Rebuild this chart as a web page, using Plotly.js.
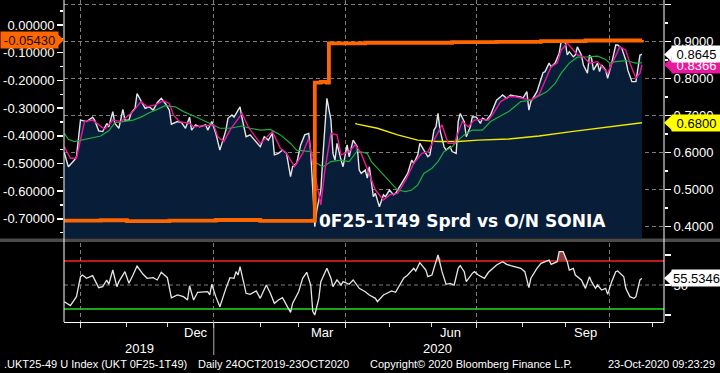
<!DOCTYPE html>
<html><head><meta charset="utf-8">
<script src="https://cdn.plot.ly/plotly-3.0.1.min.js"></script>
<style>html,body{margin:0;padding:0;background:#000;}#chart{width:720px;height:373px;}</style>
</head><body><div id="chart"></div>
<script>
// ---- Spread (white, right axis) ----
const spreadDates = ['2019-09-19','2019-09-23','2019-09-26','2019-09-27','2019-10-01','2019-10-03','2019-10-04','2019-10-09','2019-10-10','2019-10-14','2019-10-16','2019-10-18','2019-10-21','2019-10-23','2019-10-24','2019-10-28','2019-10-30','2019-10-31','2019-11-04','2019-11-05','2019-11-07','2019-11-08','2019-11-12','2019-11-14','2019-11-18','2019-11-20','2019-11-22','2019-11-26','2019-11-28','2019-12-02','2019-12-03','2019-12-06','2019-12-10','2019-12-12','2019-12-16','2019-12-17','2019-12-19','2019-12-23','2019-12-26','2019-12-27','2019-12-31','2020-01-02','2020-01-06','2020-01-09','2020-01-10','2020-01-14','2020-01-15','2020-01-20','2020-01-21','2020-01-23','2020-01-27','2020-01-29','2020-02-03','2020-02-05','2020-02-07','2020-02-11','2020-02-12','2020-02-14','2020-02-18','2020-02-20','2020-02-24','2020-02-25','2020-02-27','2020-03-02','2020-03-04','2020-03-06','2020-03-09','2020-03-10','2020-03-11','2020-03-12','2020-03-16','2020-03-17','2020-03-19','2020-03-23','2020-03-24','2020-03-25','2020-03-26','2020-03-30','2020-03-31','2020-04-02','2020-04-03','2020-04-07','2020-04-09','2020-04-10','2020-04-13','2020-04-15','2020-04-16','2020-04-17','2020-04-21','2020-04-22','2020-04-24','2020-04-28','2020-04-29','2020-05-01','2020-05-05','2020-05-06','2020-05-08','2020-05-13','2020-05-14','2020-05-18','2020-05-19','2020-05-21','2020-05-22','2020-05-26','2020-05-28','2020-05-29','2020-06-02','2020-06-03','2020-06-04','2020-06-05','2020-06-09','2020-06-10','2020-06-12','2020-06-15','2020-06-17','2020-06-18','2020-06-19','2020-06-23','2020-06-24','2020-06-26','2020-06-29','2020-07-01','2020-07-03','2020-07-06','2020-07-08','2020-07-10','2020-07-13','2020-07-15','2020-07-17','2020-07-20','2020-07-22','2020-07-24','2020-07-28','2020-07-31','2020-08-03','2020-08-05','2020-08-06','2020-08-07','2020-08-12','2020-08-14','2020-08-17','2020-08-18','2020-08-20','2020-08-21','2020-08-25','2020-08-27','2020-08-28','2020-09-01','2020-09-02','2020-09-03','2020-09-07','2020-09-08','2020-09-09','2020-09-11','2020-09-14','2020-09-16','2020-09-17','2020-09-18','2020-09-21','2020-09-23','2020-09-24','2020-09-25','2020-09-29','2020-09-30','2020-10-02','2020-10-06','2020-10-07','2020-10-09','2020-10-13','2020-10-14','2020-10-16','2020-10-20','2020-10-21','2020-10-22','2020-10-23'];
const spreadValues = [0.598,0.561,0.579,0.588,0.687,0.683,0.683,0.695,0.687,0.658,0.656,0.678,0.669,0.710,0.678,0.665,0.716,0.687,0.687,0.705,0.719,0.759,0.737,0.719,0.723,0.714,0.734,0.746,0.732,0.714,0.676,0.683,0.680,0.665,0.695,0.660,0.674,0.669,0.674,0.660,0.683,0.651,0.606,0.660,0.692,0.701,0.695,0.723,0.692,0.642,0.647,0.633,0.615,0.642,0.633,0.651,0.593,0.597,0.606,0.597,0.534,0.561,0.570,0.620,0.647,0.651,0.600,0.500,0.399,0.444,0.498,0.588,0.746,0.687,0.597,0.579,0.624,0.579,0.561,0.620,0.588,0.633,0.615,0.552,0.543,0.552,0.530,0.561,0.480,0.489,0.453,0.485,0.480,0.498,0.485,0.489,0.507,0.534,0.543,0.579,0.570,0.593,0.624,0.606,0.588,0.593,0.660,0.669,0.705,0.660,0.615,0.606,0.615,0.602,0.597,0.683,0.705,0.683,0.642,0.669,0.696,0.695,0.678,0.692,0.687,0.701,0.714,0.741,0.750,0.755,0.746,0.755,0.752,0.750,0.746,0.764,0.714,0.737,0.764,0.795,0.815,0.818,0.841,0.831,0.841,0.868,0.899,0.899,0.863,0.872,0.858,0.863,0.885,0.863,0.836,0.814,0.863,0.854,0.822,0.841,0.818,0.836,0.822,0.800,0.841,0.890,0.890,0.881,0.849,0.822,0.791,0.791,0.822,0.863,0.8645];

// ---- Short moving average (magenta, right axis) ----
const maShortDates = ['2019-09-19','2019-09-24','2019-09-27','2019-10-01','2019-10-03','2019-10-09','2019-10-14','2019-10-17','2019-10-23','2019-10-29','2019-11-01','2019-11-06','2019-11-12','2019-11-15','2019-11-21','2019-11-27','2019-12-02','2019-12-04','2019-12-09','2019-12-16','2019-12-18','2019-12-24','2019-12-30','2020-01-01','2020-01-03','2020-01-08','2020-01-13','2020-01-21','2020-01-24','2020-02-03','2020-02-11','2020-02-17','2020-02-20','2020-02-26','2020-03-03','2020-03-06','2020-03-10','2020-03-16','2020-03-18','2020-03-23','2020-03-26','2020-03-30','2020-04-03','2020-04-08','2020-04-13','2020-04-17','2020-04-22','2020-04-28','2020-05-01','2020-05-07','2020-05-13','2020-05-19','2020-05-25','2020-05-28','2020-06-02','2020-06-08','2020-06-11','2020-06-16','2020-06-22','2020-06-25','2020-06-30','2020-07-03','2020-07-09','2020-07-14','2020-07-17','2020-07-23','2020-07-28','2020-08-03','2020-08-07','2020-08-13','2020-08-18','2020-08-21','2020-08-26','2020-08-28','2020-09-02','2020-09-04','2020-09-09','2020-09-14','2020-09-17','2020-09-23','2020-09-28','2020-09-30','2020-10-05','2020-10-08','2020-10-13','2020-10-15','2020-10-20','2020-10-22','2020-10-23'];
const maShortValues = [0.615,0.584,0.584,0.633,0.683,0.687,0.674,0.662,0.687,0.683,0.696,0.710,0.737,0.723,0.728,0.739,0.732,0.701,0.683,0.678,0.669,0.671,0.671,0.674,0.642,0.629,0.660,0.705,0.669,0.624,0.656,0.611,0.597,0.561,0.597,0.638,0.570,0.458,0.552,0.651,0.647,0.593,0.602,0.620,0.597,0.543,0.498,0.471,0.485,0.489,0.525,0.570,0.597,0.602,0.633,0.674,0.624,0.624,0.683,0.669,0.687,0.689,0.687,0.710,0.737,0.750,0.750,0.746,0.741,0.755,0.795,0.831,0.841,0.876,0.895,0.881,0.863,0.858,0.841,0.845,0.827,0.814,0.849,0.885,0.876,0.841,0.800,0.814,0.8366];

// ---- Medium moving average (green, right axis) ----
const maMidDates = ['2019-09-19','2019-09-23','2019-09-26','2019-10-02','2019-10-09','2019-10-15','2019-10-21','2019-10-24','2019-10-30','2019-11-06','2019-11-12','2019-11-18','2019-11-22','2019-11-28','2019-12-05','2019-12-11','2019-12-19','2019-12-30','2020-01-06','2020-01-13','2020-01-21','2020-01-27','2020-02-03','2020-02-10','2020-02-17','2020-02-24','2020-02-27','2020-03-09','2020-03-12','2020-03-17','2020-03-23','2020-03-30','2020-04-03','2020-04-09','2020-04-16','2020-04-20','2020-04-23','2020-04-29','2020-05-04','2020-05-07','2020-05-13','2020-05-18','2020-05-21','2020-05-26','2020-06-01','2020-06-04','2020-06-09','2020-06-15','2020-06-18','2020-06-23','2020-06-29','2020-07-06','2020-07-10','2020-07-16','2020-07-23','2020-07-27','2020-07-31','2020-08-07','2020-08-19','2020-08-25','2020-08-28','2020-09-03','2020-09-09','2020-09-16','2020-09-23','2020-09-29','2020-10-01','2020-10-06','2020-10-13','2020-10-20','2020-10-23'];
const maMidValues = [0.651,0.635,0.629,0.633,0.638,0.644,0.658,0.680,0.683,0.687,0.695,0.707,0.716,0.726,0.723,0.710,0.696,0.678,0.665,0.665,0.671,0.665,0.660,0.662,0.647,0.624,0.606,0.602,0.570,0.561,0.575,0.579,0.575,0.604,0.597,0.575,0.557,0.534,0.516,0.498,0.494,0.498,0.512,0.543,0.557,0.575,0.602,0.615,0.633,0.647,0.660,0.660,0.683,0.696,0.710,0.719,0.737,0.741,0.764,0.786,0.814,0.841,0.857,0.858,0.860,0.851,0.841,0.845,0.848,0.841,0.842];

// ---- Long moving average (yellow, right axis) ----
const maLongDates = ['2020-04-08','2020-04-09','2020-04-23','2020-05-07','2020-05-21','2020-06-04','2020-06-18','2020-07-02','2020-07-23','2020-08-13','2020-09-04','2020-09-29','2020-10-23'];
const maLongValues = [0.678,0.676,0.665,0.647,0.633,0.629,0.629,0.633,0.636,0.644,0.656,0.667,0.680];

// ---- O/N SONIA (orange, left axis, plotted negative) ----
const soniaDates = ['2019-09-19','2019-10-15','2019-11-01','2019-12-02','2020-01-02','2020-02-03','2020-03-02','2020-03-10','2020-03-11','2020-03-16','2020-03-19','2020-03-20','2020-04-15','2020-05-15','2020-06-15','2020-07-15','2020-08-14','2020-09-15','2020-10-23'];
const soniaValues = [-0.706,-0.705,-0.708,-0.706,-0.704,-0.707,-0.707,-0.706,-0.208,-0.205,-0.208,-0.066,-0.064,-0.064,-0.062,-0.061,-0.058,-0.056,-0.0543];

// ---- RSI (lower panel) ----
const rsiDates = ['2019-09-19','2019-09-24','2019-09-27','2019-10-01','2019-10-02','2019-10-04','2019-10-09','2019-10-14','2019-10-16','2019-10-18','2019-10-21','2019-10-23','2019-10-25','2019-10-28','2019-10-31','2019-11-04','2019-11-06','2019-11-08','2019-11-13','2019-11-15','2019-11-20','2019-11-22','2019-11-26','2019-11-29','2019-12-03','2019-12-06','2019-12-11','2019-12-13','2019-12-16','2019-12-18','2019-12-20','2019-12-24','2019-12-27','2019-12-30','2019-12-31','2020-01-02','2020-01-06','2020-01-09','2020-01-13','2020-01-15','2020-01-16','2020-01-17','2020-01-20','2020-01-23','2020-01-27','2020-01-30','2020-02-03','2020-02-06','2020-02-10','2020-02-12','2020-02-14','2020-02-18','2020-02-20','2020-02-24','2020-02-25','2020-02-28','2020-03-03','2020-03-05','2020-03-09','2020-03-10','2020-03-11','2020-03-13','2020-03-16','2020-03-19','2020-03-23','2020-03-24','2020-03-26','2020-03-30','2020-03-31','2020-04-03','2020-04-07','2020-04-10','2020-04-15','2020-04-17','2020-04-22','2020-04-23','2020-04-28','2020-04-30','2020-05-04','2020-05-06','2020-05-08','2020-05-12','2020-05-14','2020-05-19','2020-05-20','2020-05-22','2020-05-27','2020-05-28','2020-06-01','2020-06-03','2020-06-04','2020-06-08','2020-06-10','2020-06-12','2020-06-16','2020-06-18','2020-06-19','2020-06-23','2020-06-24','2020-06-29','2020-06-30','2020-07-02','2020-07-07','2020-07-09','2020-07-13','2020-07-15','2020-07-20','2020-07-22','2020-07-24','2020-07-28','2020-07-31','2020-08-04','2020-08-06','2020-08-07','2020-08-12','2020-08-14','2020-08-19','2020-08-20','2020-08-21','2020-08-26','2020-08-27','2020-08-31','2020-09-02','2020-09-03','2020-09-07','2020-09-08','2020-09-11','2020-09-15','2020-09-17','2020-09-18','2020-09-22','2020-09-23','2020-09-25','2020-09-29','2020-09-30','2020-10-02','2020-10-06','2020-10-07','2020-10-12','2020-10-13','2020-10-15','2020-10-19','2020-10-20','2020-10-22','2020-10-23'];
const rsiValues = [36.1,32.8,40.3,56.9,58.3,55.6,57.8,47.8,48.6,54.2,50.6,62.5,48.6,52.8,61.1,51.4,58.3,65.8,58.9,55.6,56.1,54.2,60.6,56.1,39.4,41.7,40.3,37.5,49.4,37.5,43.9,43.9,44.4,41.7,50.6,40.3,31.9,47.2,56.1,55.6,61.1,58.3,65.3,43.1,42.2,45.0,38.9,50.0,43.1,34.7,37.5,39.4,33.3,27.2,34.7,44.4,55.6,60.6,50.0,28.0,25.0,38.9,52.8,63.9,55.6,48.6,54.2,50.0,52.8,50.6,54.2,47.2,44.4,41.7,38.9,36.1,41.7,43.1,45.0,43.9,50.0,55.6,58.3,63.9,61.7,68.6,62.5,56.9,58.3,69.4,75.0,61.1,50.6,51.4,50.0,63.9,66.1,61.1,52.8,59.7,61.1,58.3,55.6,60.6,63.9,66.7,69.4,67.2,66.1,65.3,63.9,61.1,47.8,55.6,63.9,68.1,70.0,70.8,67.2,69.4,77.8,77.8,69.4,62.5,63.9,58.3,54.2,47.2,56.9,52.8,47.2,50.0,45.8,47.2,42.2,52.8,61.1,61.7,56.9,47.2,40.3,38.9,40.3,54.2,55.5346];
const rsiUpper = 70, rsiLower = 30, rsiMid = 50;

// ---- Axis ticks / labels ----
const spreadTickVals = [0.4,0.5,0.6,0.7,0.8,0.9,1.0];
const spreadTickText = ['0.4000','0.5000','0.6000','0.7000','0.8000','0.9000','1.0000'];
const soniaTickVals = [0,-0.1,-0.2,-0.3,-0.4,-0.5,-0.6,-0.7];
const soniaTickText = ['0.00000','-0.10000','-0.20000','-0.30000','-0.40000','-0.50000','-0.60000','-0.70000'];
const rsiTickVals = [25,50,75];
const rsiTickText = ['','50',''];
const quarterTicks = ['2019-10-01','2020-01-01','2020-04-01','2020-07-01','2020-10-01'];
const monthLabels = ['Dec','Mar','Jun','Sep'];
const monthLabelDates = ['2019-12-19','2020-03-17','2020-06-12','2020-09-15'];
const yearLabels = ['2019','2020'];
const yearLabelDates = ['2019-11-11','2020-06-04'];
const yearBoundary = '2020-01-01';
const chartTitle = '0F25-1T49 Sprd vs O/N SONIA';
const footerSecurity = '.UKT25-49 U Index (UKT 0F25-1T49)';
const footerPeriod = 'Daily 24OCT2019-23OCT2020';
const footerCopyright = 'Copyright\u00a9 2020 Bloomberg Finance L.P.';
const footerStamp = '23-Oct-2020 09:23:29';

const lastSpread = spreadValues[spreadValues.length-1];
const lastShort = maShortValues[maShortValues.length-1];
const lastLong = maLongValues[maLongValues.length-1];
const lastSonia = soniaValues[soniaValues.length-1];
const lastRsi = rsiValues[rsiValues.length-1];

const FONT = 'Liberation Sans, Arial, sans-serif';
const GRID = '#7d7d7d', DASH = '4px,3px';

const traces = [
  {x:spreadDates, y:spreadValues, type:'scatter', mode:'lines', fill:'tozeroy', fillcolor:'#071d38',
   line:{color:'#e6e6e6', width:1.4}, xaxis:'x', yaxis:'y', hoverinfo:'skip'},
  {x:maMidDates, y:maMidValues, type:'scatter', mode:'lines', line:{color:'#1fae3e', width:1.2}, xaxis:'x', yaxis:'y'},
  {x:maLongDates, y:maLongValues, type:'scatter', mode:'lines', line:{color:'#f0ea00', width:1.4}, xaxis:'x', yaxis:'y'},
  {x:maShortDates, y:maShortValues, type:'scatter', mode:'lines', line:{color:'#e8199a', width:1.4}, xaxis:'x', yaxis:'y'},
  {x:soniaDates, y:soniaValues, type:'scatter', mode:'lines', line:{color:'#ff6600', width:3.8, shape:'hv'}, xaxis:'x', yaxis:'y2'},
  {x:rsiDates, y:rsiValues.map(()=>rsiUpper), type:'scatter', mode:'lines', line:{width:0, color:'rgba(0,0,0,0)'}, xaxis:'x', yaxis:'y3', hoverinfo:'skip'},
  {x:rsiDates, y:rsiValues.map(v=>Math.max(v,rsiUpper)), type:'scatter', mode:'lines', fill:'tonexty', fillcolor:'#8c3a3a',
   line:{width:0, color:'rgba(0,0,0,0)'}, xaxis:'x', yaxis:'y3', hoverinfo:'skip'},
  {x:rsiDates, y:rsiValues, type:'scatter', mode:'lines', line:{color:'#e6e6e6', width:1.3}, xaxis:'x', yaxis:'y3'}
];

function tip(yref, yval, dir, color){
  return {type:'path', xref:'paper', yref:yref, xsizemode:'pixel', ysizemode:'pixel',
    xanchor: dir>0 ? 1 : 0, yanchor:yval,
    path: dir>0 ? 'M0,0 L8,7.5 L8,-7.5 Z' : 'M0,0 L-8,7.5 L-8,-7.5 Z',
    fillcolor:color, line:{width:0}, layer:'above'};
}
function box(text, yref, yval, dir, bg, fg){
  return {text:text, xref:'paper', yref:yref, y:yval, yanchor:'middle',
    x: dir>0 ? (671-64)/600 : -64/600, xanchor:'left',
    width: dir>0 ? 47 : 55, height:14, bgcolor:bg, borderpad:1, showarrow:false,
    font:{family:FONT, size:13, color:fg}, align:'center'};
}
function footer(text, xpx, anchor){
  return {text:text, xref:'paper', yref:'paper', x:(xpx-64)/600, y:(322-364)/322, xanchor:anchor, yanchor:'middle',
    showarrow:false, font:{family:FONT, size:11, color:'#ffffff'}};
}

const shapes = [
  {type:'line', xref:'paper', yref:'y3', x0:0, x1:1, y0:rsiUpper, y1:rsiUpper, line:{color:'#ff1e1e', width:1.5}, layer:'below'},
  {type:'line', xref:'paper', yref:'y3', x0:0, x1:1, y0:rsiLower, y1:rsiLower, line:{color:'#1ee01e', width:1.5}, layer:'below'},
  {type:'line', xref:'paper', yref:'y3', x0:0, x1:1, y0:rsiMid, y1:rsiMid, line:{color:GRID, width:1, dash:DASH}, layer:'below'},
  {type:'rect', xref:'paper', yref:'paper', x0:-64/600, x1:1+56/600, y0:(322-242)/322, y1:(322-238.5)/322, fillcolor:'#4a4a4a', line:{width:0}},
  {type:'line', xref:'paper', yref:'paper', x0:0, x1:0, y0:0, y1:1, line:{color:'#ffffff', width:1}},
  {type:'line', xref:'paper', yref:'paper', x0:1, x1:1, y0:0, y1:1, line:{color:'#ffffff', width:1}},
  {type:'line', xref:'x', yref:'paper', x0:yearBoundary, x1:yearBoundary, y0:0, y1:-33/322, line:{color:'#b0b0b0', width:1}},
  tip('y2', lastSonia, -1, '#ff6600'),
  tip('y', lastShort, 1, '#e8199a'),
  tip('y', lastSpread, 1, '#ffffff'),
  tip('y', lastLong, 1, '#ffff00'),
  tip('y3', lastRsi, 1, '#ffffff')
];

const annotations = [
  box(lastSonia.toFixed(5), 'y2', lastSonia, -1, '#ff6600', '#111111'),
  box(lastShort.toFixed(4), 'y', lastShort, 1, '#e8199a', '#ffffff'),
  box(lastSpread.toFixed(4), 'y', lastSpread, 1, '#ffffff', '#000000'),
  box(lastLong.toFixed(4), 'y', lastLong, 1, '#ffff00', '#000000'),
  box(lastRsi.toFixed(4), 'y3', lastRsi, 1, '#ffffff', '#000000'),
  {text:'<b>'+chartTitle+'</b>', xref:'paper', yref:'paper', x:(462.5-64)/600, y:(322-221)/322, xanchor:'center', yanchor:'middle',
   showarrow:false, font:{family:'DejaVu Sans, sans-serif', size:17, color:'#ffffff'}},
  footer(footerSecurity, 2, 'left'),
  footer(footerPeriod, 196, 'left'),
  footer(footerCopyright, 368, 'left'),
  footer(footerStamp, 717, 'right')
];
monthLabels.forEach((m,i)=>annotations.push({text:m, xref:'x', yref:'paper', x:monthLabelDates[i], y:(322-333)/322, xanchor:'center', yanchor:'middle', showarrow:false, font:{family:FONT, size:13, color:'#ffffff'}}));
yearLabels.forEach((m,i)=>annotations.push({text:m, xref:'x', yref:'paper', x:yearLabelDates[i], y:(322-348)/322, xanchor:'center', yanchor:'middle', showarrow:false, font:{family:FONT, size:13, color:'#ffffff'}}));

const layout = {
  width:720, height:373,
  margin:{l:64, r:56, t:0, b:51, pad:0},
  paper_bgcolor:'#000000', plot_bgcolor:'#000000',
  showlegend:false,
  font:{family:FONT, size:13, color:'#ffffff'},
  xaxis:{type:'date', anchor:'y3', range:['2019-09-18 20:00','2020-11-06 21:36'],
    rangebreaks:[{bounds:['sat','mon']}],
    tickmode:'array', tickvals:quarterTicks, showticklabels:false,
    ticks:'outside', ticklen:5, tickcolor:'#dddddd', tickwidth:1,
    showgrid:true, gridcolor:GRID, griddash:DASH, gridwidth:1,
    showline:true, linecolor:'#ffffff', linewidth:1, zeroline:false,
    minor:{tickmode:'linear', tick0:'2019-10-01', dtick:'M1', ticks:'outside', ticklen:4, tickcolor:'#dddddd', showgrid:false}},
  yaxis:{domain:[(322-238)/322, 1], anchor:'x', side:'right', range:[0.3684, 1.0116],
    tickmode:'array', tickvals:spreadTickVals, ticktext:spreadTickText,
    ticks:'outside', ticklen:6, tickwidth:1.5, tickcolor:'#ffffff',
    showgrid:true, gridcolor:GRID, griddash:DASH, gridwidth:1, zeroline:false, showline:false,
    tickfont:{family:FONT, size:13, color:'#ffffff'},
    minor:{tickmode:'linear', tick0:0.05, dtick:0.1, ticks:'outside', ticklen:3, tickcolor:'#ffffff', showgrid:false}},
  yaxis2:{overlaying:'y', anchor:'x', side:'left', range:[-0.769, 0.0903],
    tickmode:'array', tickvals:soniaTickVals, ticktext:soniaTickText,
    ticks:'outside', ticklen:6, tickwidth:1.5, tickcolor:'#ffffff',
    showgrid:false, zeroline:false, showline:false,
    tickfont:{family:FONT, size:13, color:'#ffffff'},
    minor:{tickmode:'linear', tick0:0.05, dtick:0.1, ticks:'outside', ticklen:3, tickcolor:'#ffffff', showgrid:false}},
  yaxis3:{domain:[0, (322-243)/322], anchor:'x', side:'right', range:[19.17, 85],
    tickmode:'array', tickvals:rsiTickVals, ticktext:rsiTickText,
    ticks:'outside', ticklen:6, tickwidth:1.5, tickcolor:'#ffffff',
    showgrid:false, zeroline:false, showline:false,
    tickfont:{family:FONT, size:13, color:'#ffffff'}},
  shapes:shapes,
  annotations:annotations
};

Plotly.newPlot('chart', traces, layout, {displayModeBar:false, staticPlot:true});
</script>
</body></html>
